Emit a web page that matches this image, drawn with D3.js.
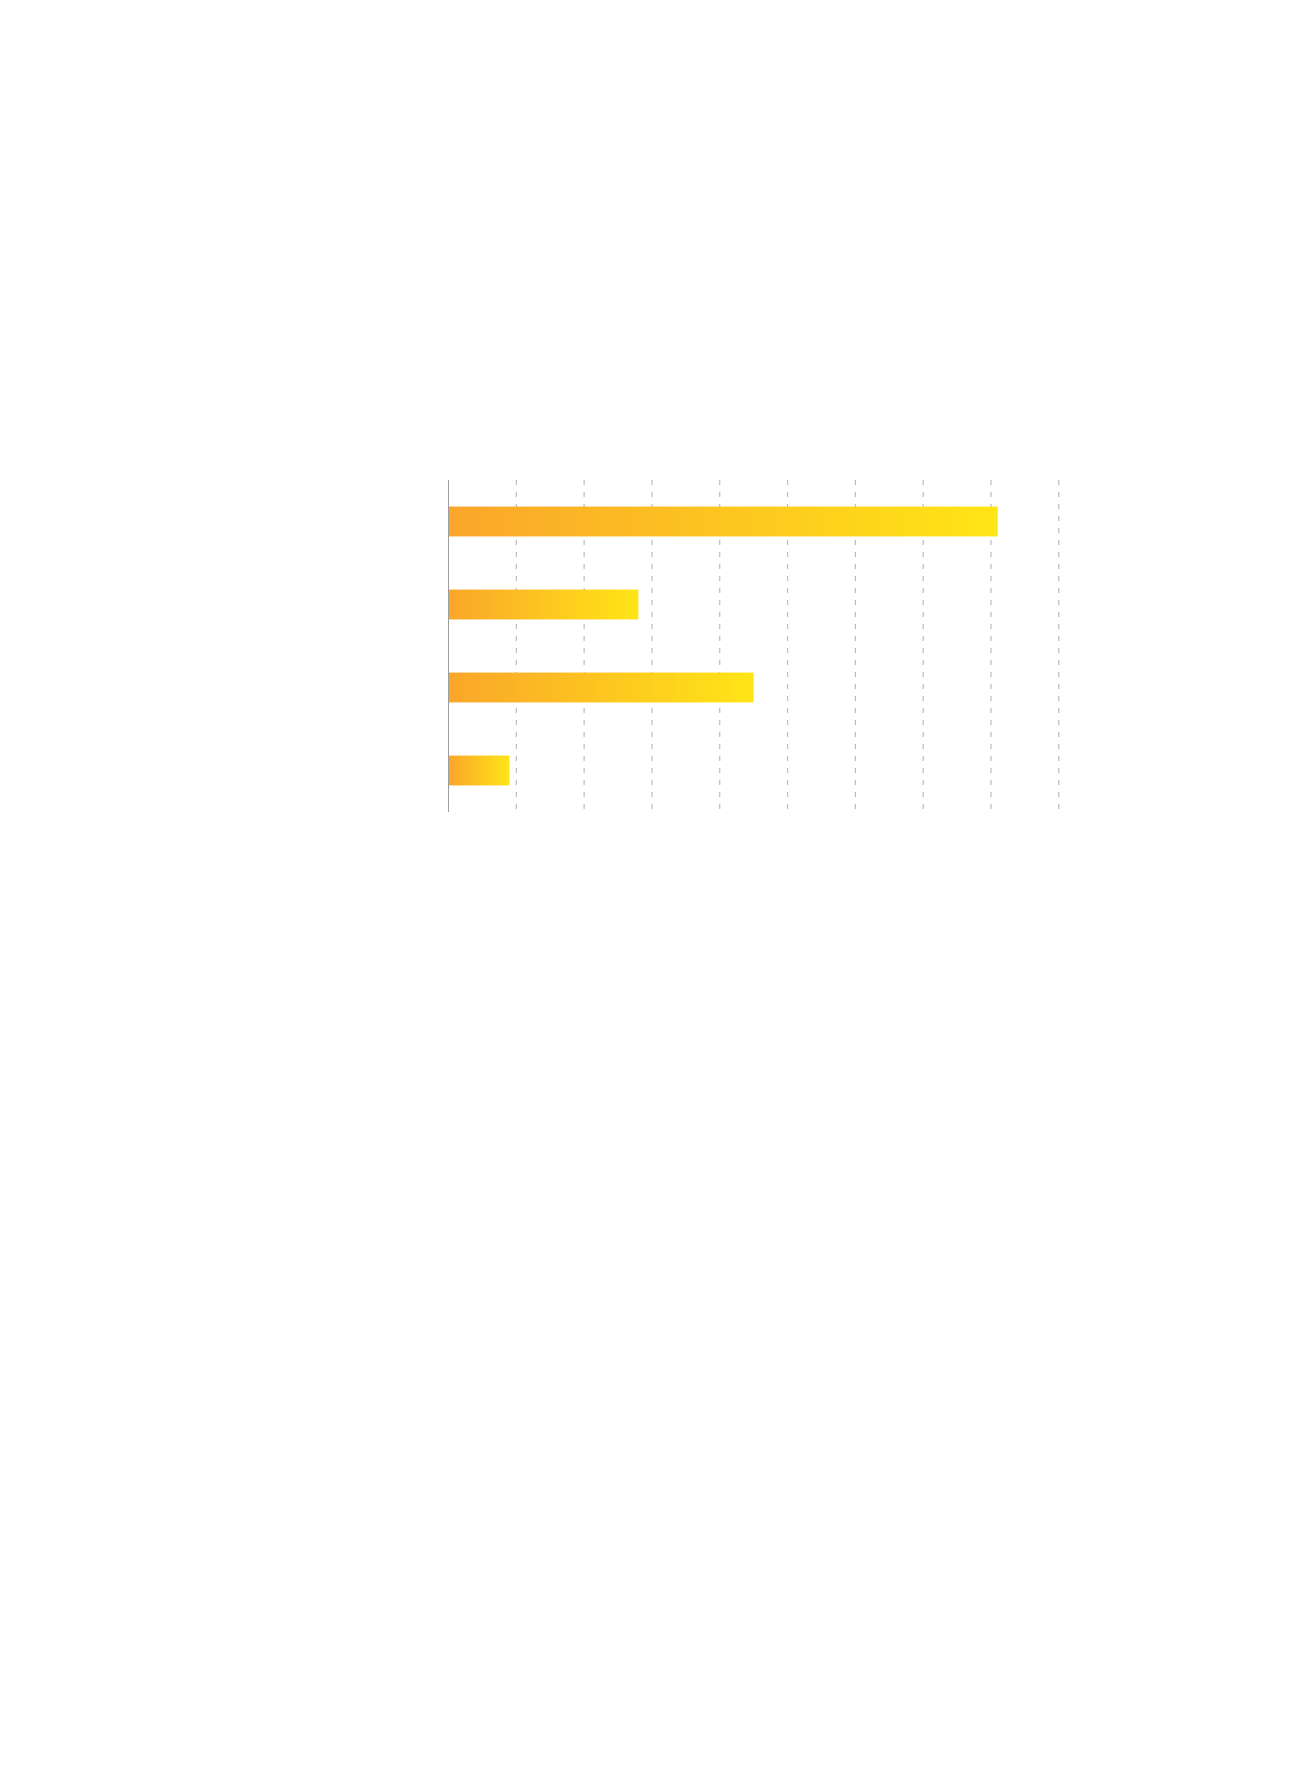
<!DOCTYPE html>
<html>

<head>
    <meta charset="UTF-8" />
    <title>Bar chart</title>
    <script src="https://d3js.org/d3.v7.min.js"></script>
    <style>
        body {
            margin: 0;
            background: #fff;
        }

        /* dashed vertical grid */
        .grid line {
            stroke: #bbbbbb;
            stroke-width: 1.2;
            stroke-dasharray: 5, 7;
        }
    </style>
</head>

<body>
    <svg width="1300" height="1765"></svg>

    <script>
        // values
        var categories = ["A", "B", "C", "D"];
        var values = [81, 28, 45, 9];
        var xTicks = [10, 20, 30, 40, 50, 60, 70, 80, 90];

        var svg = d3.select("svg");
        // note: "top" is taken by window.top, so use other names
        var plotLeft = 448.5, plotRight = 1058.8, plotTop = 480, plotBottom = 812;

        var xScale = d3.scaleLinear().domain([0, 90]).range([plotLeft, plotRight]);
        var yScale = d3.scaleBand().domain(categories).range([plotTop, plotBottom])
            .paddingInner(0.64).paddingOuter(0.32);

        // gradient orange -> yellow across each bar
        var grad = svg.append("defs").append("linearGradient")
            .attr("id", "barFill")
            .attr("x1", "0%").attr("x2", "100%")
            .attr("y1", "0%").attr("y2", "0%");
        grad.append("stop").attr("offset", "0%").attr("stop-color", "#faa62a");
        grad.append("stop").attr("offset", "100%").attr("stop-color", "#ffe516");

        // grid lines
        svg.append("g").attr("class", "grid")
            .selectAll("line").data(xTicks)
            .enter().append("line")
            .attr("x1", d => xScale(d)).attr("x2", d => xScale(d))
            .attr("y1", plotTop).attr("y2", plotBottom);

        // bars
        svg.append("g").selectAll("rect")
            .data(values)
            .enter().append("rect")
            .attr("x", xScale(0))
            .attr("y", (d, i) => yScale(categories[i]))
            .attr("width", d => xScale(d) - xScale(0))
            .attr("height", yScale.bandwidth())
            .attr("fill", "url(#barFill)");

        // left axis line only
        svg.append("line")
            .attr("x1", xScale(0)).attr("x2", xScale(0))
            .attr("y1", plotTop).attr("y2", plotBottom)
            .attr("stroke", "#9e9e9e")
            .attr("stroke-width", 1);
    </script>
</body>

</html>
